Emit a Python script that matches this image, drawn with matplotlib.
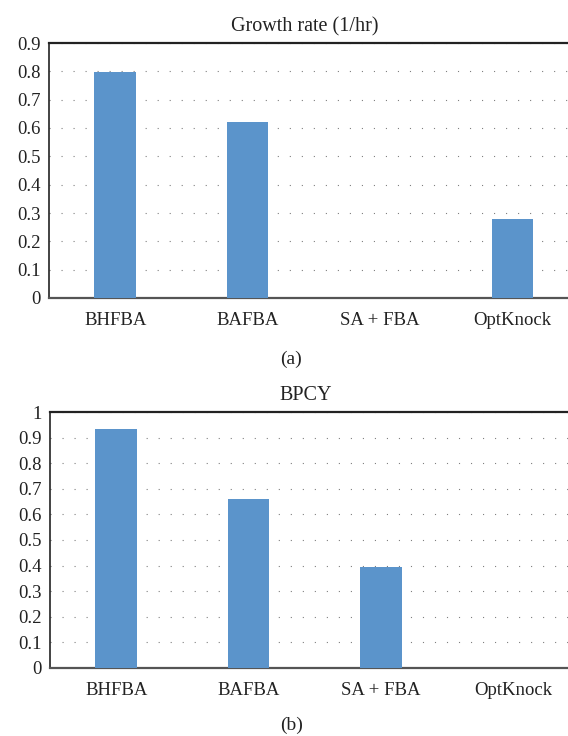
import matplotlib
matplotlib.use("Agg")
import matplotlib.pyplot as plt

plt.rcParams['font.family'] = ['Liberation Serif', 'DejaVu Serif']
plt.rcParams['lines.scale_dashes'] = False

categories = ["BHFBA", "BAFBA", "SA + FBA", "OptKnock"]
growth_rate = [0.797, 0.622, 0.0, 0.28]
bpcy = [0.935, 0.662, 0.396, 0.0]

BAR_COLOR = "#5b94cb"

fig = plt.figure(figsize=(5.68, 7.36), dpi=100)


def draw_panel(ax, values, title, ymax):
    x = range(len(categories))
    ax.bar(x, values, width=0.315, color=BAR_COLOR, zorder=3)
    ax.set_xlim(-0.5, 3.5)
    ax.set_ylim(0, ymax)
    n = int(round(ymax * 10))
    ax.set_yticks([i / 10 for i in range(n + 1)])
    ax.set_yticklabels(["0" if i == 0 else ("1" if i == 10 else f"{i / 10:.1f}")
                        for i in range(n + 1)])
    ax.set_xticks(list(x))
    ax.set_xticklabels(categories)
    ax.tick_params(axis='both', length=0, labelsize=13.5, colors='#222222')
    ax.tick_params(axis='x', pad=10)
    ax.tick_params(axis='y', pad=6)
    ax.yaxis.grid(True, color='#808080', linewidth=0.8, linestyle=(0, (0.8, 7.85)), zorder=0)
    ax.set_axisbelow(True)
    ax.spines['right'].set_visible(False)
    ax.spines['top'].set_color('#222222')
    ax.spines['top'].set_linewidth(1.6)
    ax.spines['left'].set_color('#222222')
    ax.spines['left'].set_linewidth(1.2)
    ax.spines['bottom'].set_color('#555555')
    ax.spines['bottom'].set_linewidth(1.6)
    ax.set_title(title, fontsize=14.5, pad=8.5, x=(305 - 49) / (4 * 132.4), color='#222222')


ax1 = fig.add_axes([49 / 568, (736 - 298) / 736, 4 * 132.4 / 568, 255 / 736])
draw_panel(ax1, growth_rate, "Growth rate (1/hr)", 0.9)
fig.text(291 / 568, 1 - 359 / 736, "(a)", ha='center', va='center', fontsize=14, color='#222222')

ax2 = fig.add_axes([50 / 568, (736 - 668) / 736, 4 * 132.4 / 568, 256 / 736])
draw_panel(ax2, bpcy, "BPCY", 1.0)
fig.text(292 / 568, 1 - 725 / 736, "(b)", ha='center', va='center', fontsize=14, color='#222222')

fig.savefig("out.png", dpi=100)
